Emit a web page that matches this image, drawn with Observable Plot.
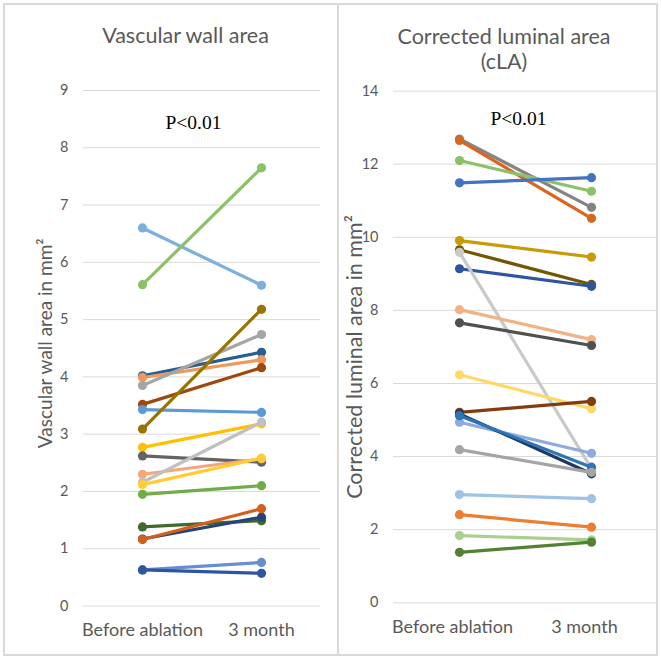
<!DOCTYPE html>
<html>
<head>
<meta charset="utf-8">
<script src="https://cdn.jsdelivr.net/npm/d3@7"></script>
<script src="https://cdn.jsdelivr.net/npm/@observablehq/plot@0.6"></script>
<style>
  html, body { margin: 0; padding: 0; background: #fff; }
  #wrap { position: relative; width: 661px; height: 661px; overflow: hidden; }
  #wrap svg { position: absolute; top: 0; }
  .bd { position: absolute; background: #d9d9d9; }
</style>
</head>
<body>
<div id="wrap">
  <div class="bd" style="left:3px;top:3px;width:655px;height:2px"></div>
  <div class="bd" style="left:3px;top:654px;width:655px;height:2px"></div>
  <div class="bd" style="left:3px;top:3px;width:2px;height:653px"></div>
  <div class="bd" style="left:656px;top:3px;width:2px;height:653px"></div>
  <div class="bd" style="left:337px;top:3px;width:2px;height:653px"></div>
</div>
<script>
const categories = ["Before ablation", "3 month"];

// Vascular wall area (mm²)
const wallTitle = "Vascular wall area";
const wallYLabel = "Vascular wall area in mm²";
const wallTicks = [0, 1, 2, 3, 4, 5, 6, 7, 8, 9];
const wallBefore = [6.60, 5.61, 4.02, 3.99, 3.85, 3.52, 3.43, 3.09, 2.77, 2.62, 2.30, 2.16, 2.12, 1.95, 1.38, 1.17, 1.16, 0.63, 0.63];
const wallAfter  = [5.60, 7.65, 4.43, 4.30, 4.74, 4.16, 3.38, 5.18, 3.18, 2.51, 2.57, 3.21, 2.58, 2.10, 1.49, 1.55, 1.70, 0.76, 0.57];
const wallColors = ["#7cafdd", "#8cc168", "#255e91", "#f1975a", "#a5a5a5", "#9e480e", "#5b9bd5", "#997300", "#ffc000", "#636363", "#f4a77a", "#c0c0c0", "#ffcd33", "#70ad47", "#43682b", "#264478", "#d2601a", "#698ed0", "#2f55a0"];

// Corrected luminal area (mm²)
const lumenTitle = "Corrected luminal area\n(cLA)";
const lumenYLabel = "Corrected luminal area in mm²";
const lumenTicks = [0, 2, 4, 6, 8, 10, 12, 14];
const lumenBefore = [12.69, 12.65, 12.10, 11.49, 9.91, 9.66, 9.14, 9.59, 8.02, 7.66, 6.24, 5.21, 4.94, 5.17, 5.12, 4.19, 2.96, 2.41, 1.84, 1.38];
const lumenAfter  = [10.82, 10.52, 11.26, 11.63, 9.46, 8.71, 8.66, 3.67, 7.20, 7.04, 5.31, 5.51, 4.09, 3.53, 3.71, 3.57, 2.85, 2.07, 1.72, 1.66];
const lumenColors = ["#848484", "#d9661f", "#8cc168", "#4472c4", "#c99a06", "#735600", "#2f55a0", "#c9c9c9", "#f4b183", "#505050", "#ffd966", "#843c0c", "#8faadc", "#203864", "#2e75b6", "#a5a5a5", "#9dc3e6", "#ed7d31", "#a9d18e", "#548235"];

const pText = "P<0.01";
const FONT = "Lato, 'Open Sans', sans-serif";
const TXT = "#595959";

function rows(before, after, colors) {
  return before.flatMap((v, i) => [
    {id: i, x: categories[0], y: v, c: colors[i]},
    {id: i, x: categories[1], y: after[i], c: colors[i]}
  ]);
}

function panel(o) {
  const data = rows(o.before, o.after, o.colors);
  return Plot.plot({
    width: o.width, height: o.height,
    marginLeft: o.marginLeft, marginRight: o.marginRight,
    marginTop: o.marginTop, marginBottom: o.marginBottom,
    style: {fontFamily: FONT, color: TXT, background: "transparent", overflow: "visible"},
    x: {type: "point", domain: categories, padding: o.padding, label: null},
    y: {domain: [o.ticks[0], o.ticks[o.ticks.length - 1]], label: null},
    color: {type: "identity"},
    marks: [
      Plot.ruleY(o.ticks, {stroke: "#d9d9d9", strokeWidth: 1}),
      Plot.axisY({ticks: o.ticks, tickSize: 0, tickPadding: o.tickPadding, fontSize: 14.5, label: null, fill: TXT}),
      Plot.axisX({tickSize: 0, tickPadding: 17, fontSize: 18, label: null, fill: TXT, dx: o.xDx}),
      Plot.line(data, {x: "x", y: "y", z: "id", stroke: "c", strokeWidth: 3.2}),
      Plot.dot(data, {x: "x", y: "y", fill: "c", r: 4.6}),
      Plot.text([o.title], {frameAnchor: "top", textAnchor: "middle", dx: o.titleDx, dy: o.titleDy, fontSize: 21.5, fill: TXT, lineAnchor: "middle", lineHeight: 1.18}),
      Plot.text([pText], {frameAnchor: "top", textAnchor: "middle", dx: o.pDx, dy: o.pDy, fontSize: 19.5, fill: "#000", fontFamily: "'Liberation Serif', 'Times New Roman', serif", lineAnchor: "middle"}),
      Plot.text([o.ylabel], {frameAnchor: "left", textAnchor: "middle", dx: o.ylDx, dy: o.ylDy, rotate: -90, fontSize: o.ylSize, fill: TXT, lineAnchor: "middle"})
    ]
  });
}

const wrap = document.getElementById("wrap");

const left = panel({
  width: 338, height: 661, marginLeft: 83, marginRight: 18, marginTop: 90, marginBottom: 55.5,
  padding: 0.495, ticks: wallTicks, tickPadding: 15, xDx: 0,
  before: wallBefore, after: wallAfter, colors: wallColors,
  title: wallTitle, titleDx: -16.5, titleDy: -56,
  pDx: -8.5, pDy: 32,
  ylabel: wallYLabel, ylDx: -38, ylDy: -5, ylSize: 19
});
left.style.left = "0px";
wrap.appendChild(left);

const right = panel({
  width: 323, height: 661, marginLeft: 55, marginRight: 4, marginTop: 90.6, marginBottom: 58.7,
  padding: 0.5, ticks: lumenTicks, tickPadding: 15, xDx: -7,
  before: lumenBefore, after: lumenAfter, colors: lumenColors,
  title: lumenTitle, titleDx: -21.5, titleDy: -43,
  pDx: -7, pDy: 28,
  ylabel: lumenYLabel, ylDx: -38, ylDy: 10, ylSize: 21.5
});
right.style.left = "338px";
wrap.appendChild(right);
</script>
</body>
</html>
